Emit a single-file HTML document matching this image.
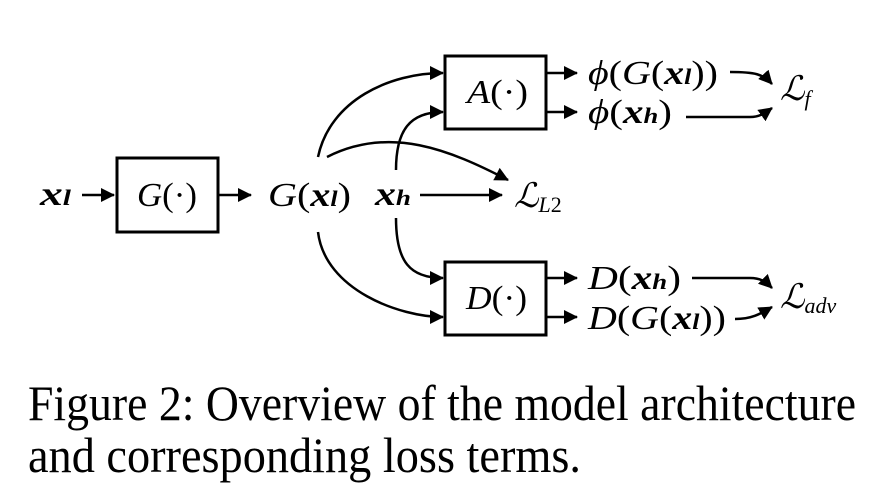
<!DOCTYPE html>
<html><head><meta charset="utf-8"><style>
html,body{margin:0;padding:0;background:#fff;}
svg{display:block}
.m{font-family:"Liberation Serif",serif;font-style:italic;font-size:34px;fill:#000}
.r{font-style:normal}
.b{font-weight:bold}
</style></head><body>
<svg width="876" height="494" viewBox="0 0 876 494" xmlns="http://www.w3.org/2000/svg">
<defs><marker id="a2" markerWidth="14" markerHeight="14" refX="13" refY="7" orient="auto" markerUnits="userSpaceOnUse"><path d="M0,0 L14,7 L0,14 z" fill="#000"/></marker></defs>
<g stroke="#000" stroke-width="3" fill="none">
<rect x="117" y="158" width="101" height="74"/>
<rect x="445" y="56" width="101" height="73"/>
<rect x="445" y="262" width="101" height="73"/>
</g>
<g stroke="#000" stroke-width="2.5" fill="none" marker-end="url(#a2)">
<path d="M82,195 L114,195"/>
<path d="M219,195 L251,195"/>
<path d="M420,195 L502,195"/>
<path d="M546,73 L577,73"/><path d="M546,112 L577,112"/>
<path d="M546,278 L577,278"/><path d="M546,317 L577,317"/>
<path d="M318,157 C330,100 390,73 443,73"/>
<path d="M327,157 C390,125 450,150 508,180"/>
<path d="M396,170 C396,130 410,112 443,112"/>
<path d="M318,232 C325,290 400,317 443,317"/>
<path d="M396,218 C396,262 410,278 443,278"/>
<path d="M730,72 C755,72 763,74 772,84"/>
<path d="M686,117 L750,117 C760,117 765,113 772,108"/>
<path d="M692,278 L750,278 C760,278 765,281 772,288"/>
<path d="M735,319 C752,319 760,314 772,307"/>
</g>
<text class="m" x="40" y="205" textLength="31" lengthAdjust="spacingAndGlyphs"><tspan class="b">x</tspan><tspan font-size="22" class="b">l</tspan></text>
<text class="m" x="137" y="206" textLength="60" lengthAdjust="spacingAndGlyphs">G<tspan class="r">(·)</tspan></text>
<text class="m" x="268" y="206" textLength="83" lengthAdjust="spacingAndGlyphs">G<tspan class="r">(</tspan><tspan class="b">x</tspan><tspan font-size="22" class="b">l</tspan><tspan class="r">)</tspan></text>
<text class="m" x="375" y="205" textLength="36" lengthAdjust="spacingAndGlyphs"><tspan class="b">x</tspan><tspan font-size="22" class="b">h</tspan></text>
<text class="m" x="514" y="207">ℒ<tspan font-size="22" dy="5">L<tspan class="r">2</tspan></tspan></text>
<text class="m" x="467" y="103" textLength="61" lengthAdjust="spacingAndGlyphs">A<tspan class="r">(·)</tspan></text>
<text class="m" x="466" y="309" textLength="61" lengthAdjust="spacingAndGlyphs">D<tspan class="r">(·)</tspan></text>
<text class="m" x="588" y="84" textLength="130" lengthAdjust="spacingAndGlyphs">ϕ<tspan class="r">(</tspan>G<tspan class="r">(</tspan><tspan class="b">x</tspan><tspan font-size="22" class="b">l</tspan><tspan class="r">))</tspan></text>
<text class="m" x="588" y="123" textLength="84" lengthAdjust="spacingAndGlyphs">ϕ<tspan class="r">(</tspan><tspan class="b">x</tspan><tspan font-size="22" class="b">h</tspan><tspan class="r">)</tspan></text>
<text class="m" x="588" y="289" textLength="93" lengthAdjust="spacingAndGlyphs">D<tspan class="r">(</tspan><tspan class="b">x</tspan><tspan font-size="22" class="b">h</tspan><tspan class="r">)</tspan></text>
<text class="m" x="588" y="329" textLength="138" lengthAdjust="spacingAndGlyphs">D<tspan class="r">(</tspan>G<tspan class="r">(</tspan><tspan class="b">x</tspan><tspan font-size="22" class="b">l</tspan><tspan class="r">))</tspan></text>
<text class="m" x="780" y="100">ℒ<tspan font-size="22" dy="6">f</tspan></text>
<text class="m" x="780" y="308">ℒ<tspan font-size="22" dy="5">adv</tspan></text>
<text x="28" y="420" font-family="Liberation Serif,serif" font-size="50" textLength="828" lengthAdjust="spacingAndGlyphs">Figure 2: Overview of the model architecture</text>
<text x="28" y="472" font-family="Liberation Serif,serif" font-size="50" textLength="553" lengthAdjust="spacingAndGlyphs">and corresponding loss terms.</text>
</svg>
</body></html>
